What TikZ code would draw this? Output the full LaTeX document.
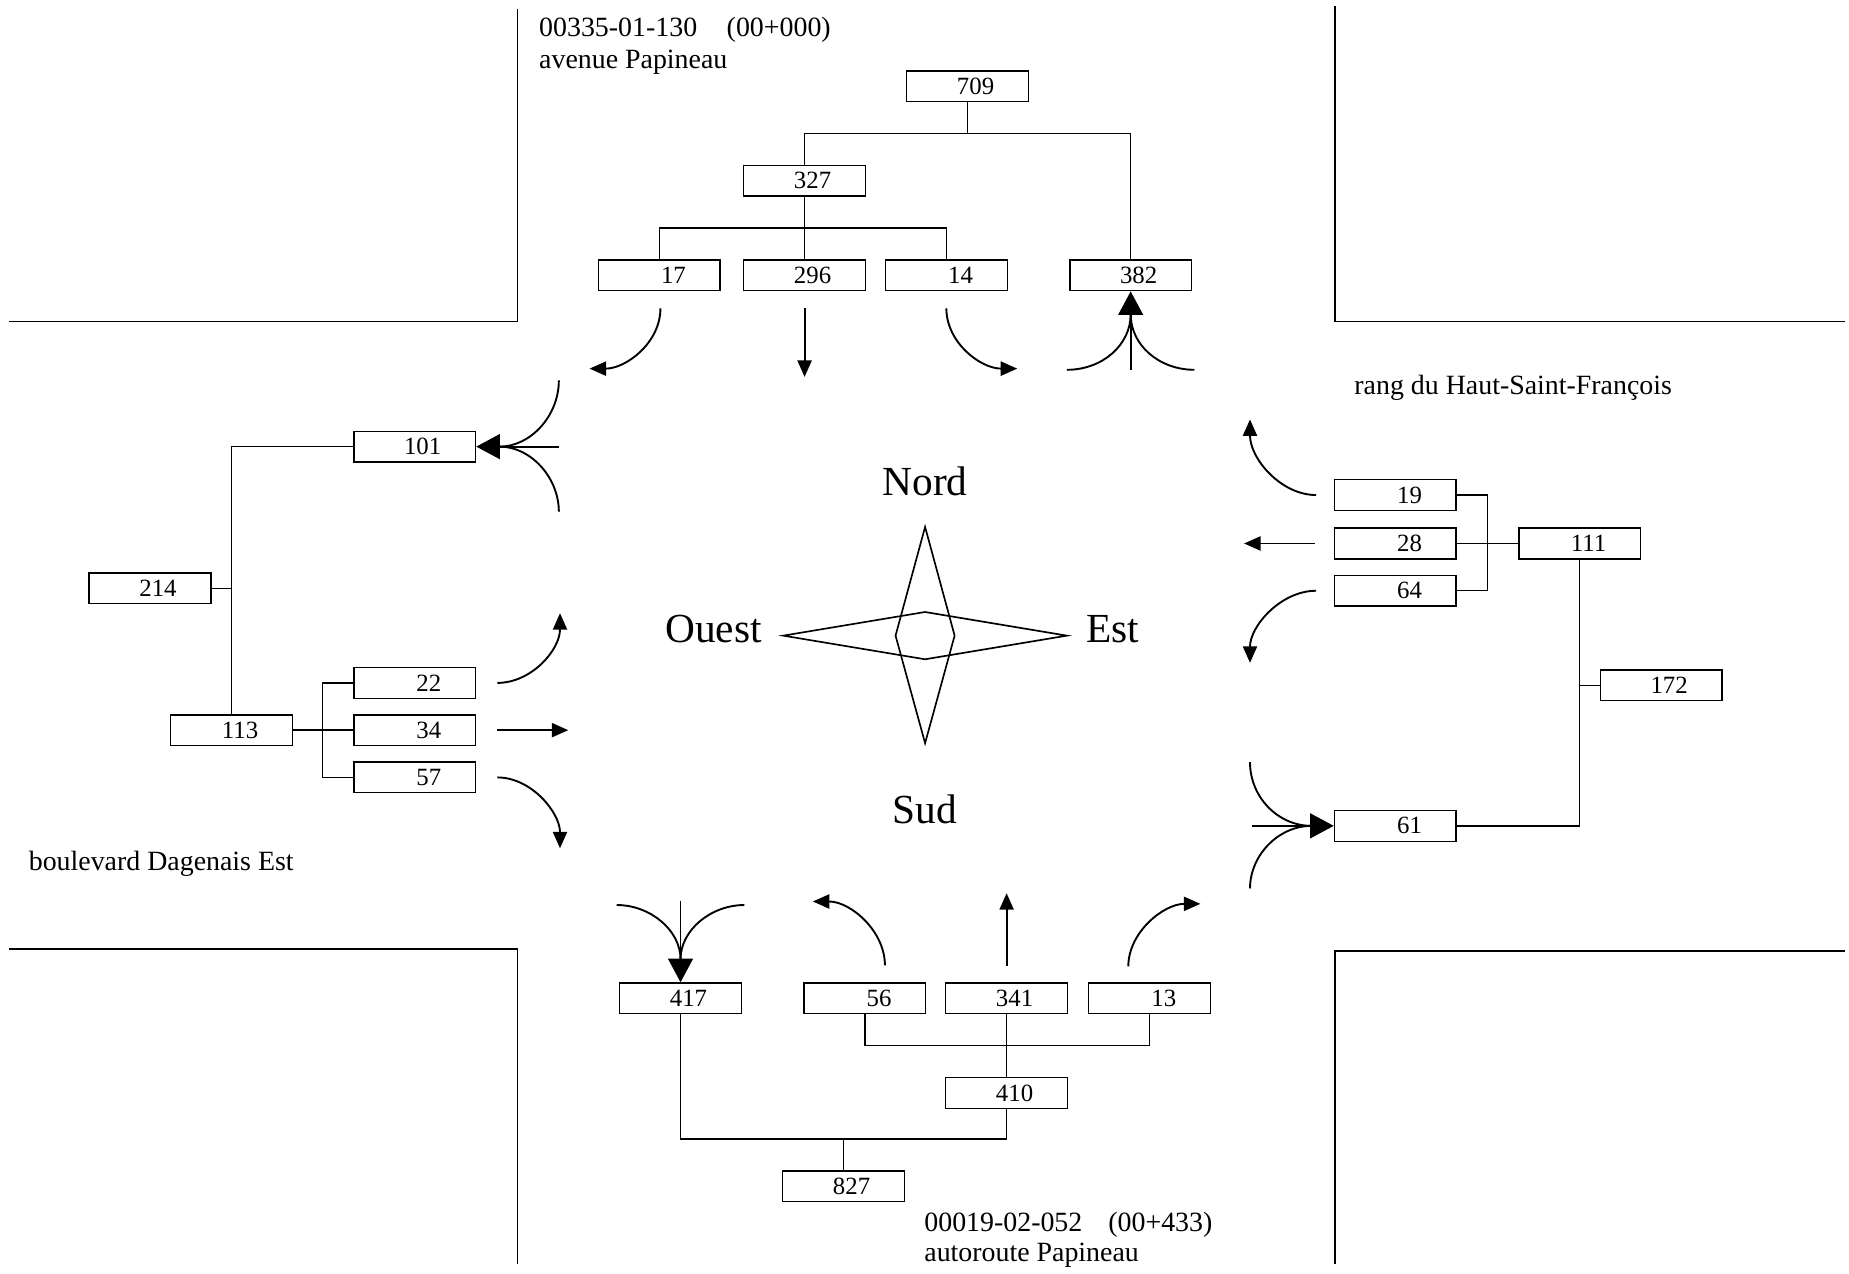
\documentclass[tikz,border=0pt]{standalone}
\usepackage{fontspec}
\setmainfont{Liberation Serif}
\usetikzlibrary{arrows.meta}
\newcommand\boxfont{\fontsize{10.5pt}{12pt}\selectfont}
\newcommand\streetfont{\fontsize{11.8pt}{13.5pt}\selectfont}
\newcommand\compfont{\fontsize{17.5pt}{20pt}\selectfont}
\newcommand\bxt[1]{\makebox[37pt][r]{#1}\kern14.5pt\relax}
\tikzset{
  box/.style={draw, line width=0.6pt, minimum width=51.5pt, minimum height=13pt, inner sep=0pt, font=\boxfont},
  ln/.style={line width=0.6pt},
  road/.style={line width=0.7pt},
  crv/.style={line width=0.8pt},
  sarr/.style={line width=0.8pt, -{Triangle[length=7pt,width=6pt]}},
  barr/.style={line width=0.8pt, -{Triangle[length=10pt,width=10.5pt]}},
  street/.style={anchor=base west, inner sep=0pt, font=\streetfont},
  comp/.style={anchor=base, inner sep=0pt, font=\compfont},
  rose/.style={line width=0.7pt, line join=miter}
}
\begin{document}
\begin{tikzpicture}[x=0.5pt,y=-0.5pt]
\useasboundingbox (0,0) rectangle (1565,1078);

% road edges
\draw[road] (438,8) -- (438,272) -- (8,272);
\draw[road] (1130,5) -- (1130,272) -- (1562,272);
\draw[road] (8,803) -- (438,803) -- (438,1070);
\draw[road] (1562,805) -- (1130,805) -- (1130,1070);

% street labels
\node[street] (t1) at (456,31) {00335-01-130\hspace{12.5pt}(00+000)};
\node[street] (t2) at (456,58) {avenue Papineau};
\node[street] (t3) at (1146,334) {rang du Haut-Saint-François};
\node[street] (t4) at (24,737) {boulevard Dagenais Est};
\node[street] (t5) at (782,1042) {00019-02-052\hspace{11pt}(00+433)};
\node[street] (t6) at (782,1068) {autoroute Papineau};

% boxes top
\node[box] (n709) at (819,73) {\bxt{709}};
\node[box] (n327) at (681,153) {\bxt{327}};
\node[box] (n17) at (558,233) {\bxt{17}};
\node[box] (n296) at (681,233) {\bxt{296}};
\node[box] (n14) at (801,233) {\bxt{14}};
\node[box] (n382) at (957,233) {\bxt{382}};
% boxes left
\node[box] (n101) at (351,378) {\bxt{101}};
\node[box] (n214) at (127,498) {\bxt{214}};
\node[box] (n113) at (196,618) {\bxt{113}};
\node[box] (n22) at (351,578) {\bxt{22}};
\node[box] (n34) at (351,618) {\bxt{34}};
\node[box] (n57) at (351,658) {\bxt{57}};
% boxes right
\node[box] (n19) at (1181,419) {\bxt{19}};
\node[box] (n28) at (1181,460) {\bxt{28}};
\node[box] (n64) at (1181,500) {\bxt{64}};
\node[box] (n111) at (1337,460) {\bxt{111}};
\node[box] (n172) at (1406,580) {\bxt{172}};
\node[box] (n61) at (1181,699) {\bxt{61}};
% boxes bottom
\node[box] (n417) at (576,845) {\bxt{417}};
\node[box] (n56) at (732,845) {\bxt{56}};
\node[box] (n341) at (852,845) {\bxt{341}};
\node[box] (n13) at (973,845) {\bxt{13}};
\node[box] (n410) at (852,925) {\bxt{410}};
\node[box] (n827) at (714,1004) {\bxt{827}};

% tree connectors
\coordinate (j1) at (819,113);
\draw[ln] (n709.south) -- (j1);
\draw[ln] (n327.north) |- (j1) -| (n382.north);
\coordinate (j2) at (681,193);
\draw[ln] (n327.south) -- (n296.north);
\draw[ln] (n17.north) |- (j2) -| (n14.north);

\draw[ln] (n101.west) -| (n113.north);
\draw[ln] (n214.east) -- (n214.east -| n113.north);
\coordinate (j3) at (273,618);
\draw[ln] (n113.east) -- (n34.west);
\draw[ln] (n22.west) -| (j3) |- (n57.west);

\coordinate (j4) at (1259,460);
\draw[ln] (n19.east) -| (j4) |- (n64.east);
\draw[ln] (n28.east) -- (n111.west);
\draw[ln] (n111.south) |- (n61.east);
\draw[ln] (n172.west) -- (n172.west -| n111.south);

\coordinate (j5) at (852,885);
\draw[ln] (n56.south) |- (j5) -| (n13.south);
\draw[ln] (n341.south) -- (n410.north);
\coordinate (j6) at (714,964);
\draw[ln] (n417.south) |- (j6) -| (n410.south);
\draw[ln] (n827.north) -- (j6);

% movement arrows: north approach
\coordinate (s17) at (559,261); \coordinate (e17) at (499,312);
\draw[sarr] (s17) .. controls (559,290) and (530,312) .. (e17);
\coordinate (s296) at (681,261); \coordinate (e296) at (681,319);
\draw[sarr] (s296) -- (e296);
\coordinate (s14) at (801,261); \coordinate (e14) at (861,312);
\draw[sarr] (s14) .. controls (801,290) and (830,312) .. (e14);
\coordinate (b382) at (957,313); \coordinate (m382) at (957,266);
\coordinate (l382) at (903,313); \coordinate (r382) at (1011,313);
\draw[barr] (b382) -- (n382.south);
\draw[crv] (l382) .. controls (933,313) and (957,292) .. (m382);
\draw[crv] (r382) .. controls (981,313) and (957,292) .. (m382);

% west approach
\coordinate (b101) at (473,378); \coordinate (m101) at (423,378);
\coordinate (u101) at (473,322); \coordinate (d101) at (473,433);
\draw[barr] (b101) -- (n101.east);
\draw[crv] (u101) .. controls (473,352) and (449,378) .. (m101);
\draw[crv] (d101) .. controls (473,404) and (449,378) .. (m101);
\coordinate (s22) at (421,578); \coordinate (e22) at (474,519);
\draw[sarr] (s22) .. controls (450,578) and (474,550) .. (e22);
\coordinate (s34) at (421,618); \coordinate (e34) at (481,618);
\draw[sarr] (s34) -- (e34);
\coordinate (s57) at (421,658); \coordinate (e57) at (474,718);
\draw[sarr] (s57) .. controls (450,658) and (474,688) .. (e57);

% east approach
\coordinate (s19) at (1114,419); \coordinate (e19) at (1058,355);
\draw[sarr] (s19) .. controls (1084,419) and (1058,388) .. (e19);
\coordinate (s28) at (1113,460); \coordinate (e28) at (1053,460);
\draw[sarr] (s28) -- (e28);
\coordinate (s64) at (1114,500); \coordinate (e64) at (1058,561);
\draw[sarr] (s64) .. controls (1084,500) and (1058,530) .. (e64);
\coordinate (b61) at (1060,699); \coordinate (m61) at (1110,699);
\coordinate (u61) at (1058,645); \coordinate (d61) at (1058,752);
\draw[barr] (b61) -- (n61.west);
\draw[crv] (u61) .. controls (1058,675) and (1082,699) .. (m61);
\draw[crv] (d61) .. controls (1058,724) and (1082,699) .. (m61);

% south approach
\coordinate (b417) at (576,763); \coordinate (m417) at (576,812);
\coordinate (l417) at (522,766); \coordinate (r417) at (630,766);
\draw[barr] (b417) -- (n417.north);
\draw[crv] (l417) .. controls (550,766) and (576,787) .. (m417);
\draw[crv] (r417) .. controls (602,766) and (576,787) .. (m417);
\coordinate (s56) at (749,817); \coordinate (e56) at (688,763);
\draw[sarr] (s56) .. controls (749,788) and (720,763) .. (e56);
\coordinate (s341) at (852,818); \coordinate (e341) at (852,756);
\draw[sarr] (s341) -- (e341);
\coordinate (s13) at (955,818); \coordinate (e13) at (1016,765);
\draw[sarr] (s13) .. controls (955,789) and (985,765) .. (e13);

% compass rose
\draw[rose] (783,446) -- (808,538) -- (783,629) -- (758,538) -- cycle;
\draw[rose] (663,538) -- (783,518) -- (903,538) -- (783,558) -- cycle;
\node[comp] (cn) at (783,419) {Nord};
\node[comp] (cw) at (604,544) {Ouest};
\node[comp] (ce) at (942,544) {Est};
\node[comp] (cs) at (783,697) {Sud};
\end{tikzpicture}
\end{document}
